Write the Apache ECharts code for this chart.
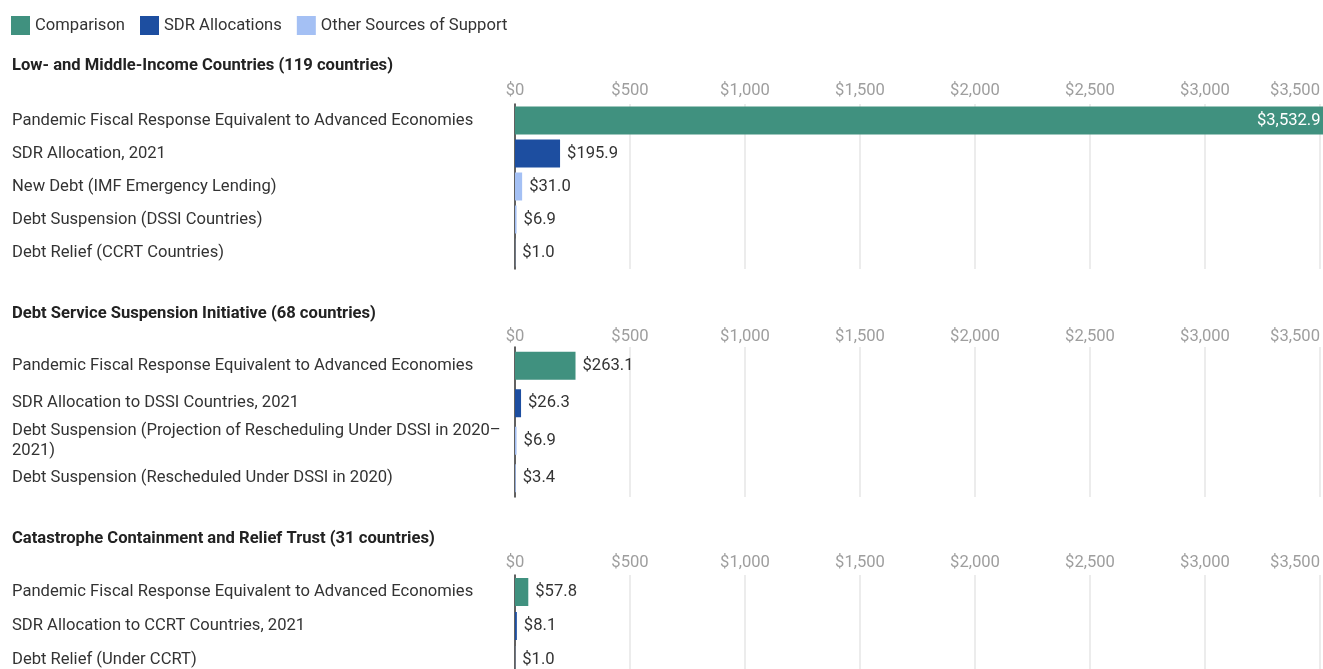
<!DOCTYPE html>
<html>
<head>
<meta charset="utf-8">
<script src="https://cdn.jsdelivr.net/npm/echarts@6/dist/echarts.min.js"></script>
<style>
  html, body { margin: 0; padding: 0; background: #fff; width: 1323px; height: 669px; overflow: hidden; }
  /* the last panel runs past the bottom edge of the page */
  #chart { width: 1323px; height: 690px; }
</style>
</head>
<body>
<div id="chart"></div>
<script>
// Support type names, in legend order
const supportTypes = ['Comparison', 'SDR Allocations', 'Other Sources of Support'];

// Panel headings
const panelTitles = [
  'Low- and Middle-Income Countries (119 countries)',
  'Debt Service Suspension Initiative (68 countries)',
  'Catastrophe Containment and Relief Trust (31 countries)'
];

// Low- and middle-income countries (billions USD)
const lmicCategories = [
  'Pandemic Fiscal Response Equivalent to Advanced Economies',
  'SDR Allocation, 2021',
  'New Debt (IMF Emergency Lending)',
  'Debt Suspension (DSSI Countries)',
  'Debt Relief (CCRT Countries)'
];
const lmicValues = [3532.9, 195.9, 31.0, 6.9, 1.0];
const lmicTypes = [0, 1, 2, 2, 2];

// DSSI countries
const dssiCategories = [
  'Pandemic Fiscal Response Equivalent to Advanced Economies',
  'SDR Allocation to DSSI Countries, 2021',
  'Debt Suspension (Projection of Rescheduling Under DSSI in 2020\u20132021)',
  'Debt Suspension (Rescheduled Under DSSI in 2020)'
];
const dssiValues = [263.1, 26.3, 6.9, 3.4];
const dssiTypes = [0, 1, 2, 2];

// CCRT countries
const ccrtCategories = [
  'Pandemic Fiscal Response Equivalent to Advanced Economies',
  'SDR Allocation to CCRT Countries, 2021',
  'Debt Relief (Under CCRT)'
];
const ccrtValues = [57.8, 8.1, 1.0];
const ccrtTypes = [0, 1, 2];

// Shared value axis ticks
const axisMin = 0;
const axisMax = 3500;
const axisStep = 500;

const typeColors = ['#40917f', '#1d4ea0', '#a4c0f4'];
const FONT = 'Roboto, "Noto Sans", sans-serif';
const FS = 16.6;

const panels = [
  { categories: lmicCategories, values: lmicValues, types: lmicTypes, top: 104, height: 165, titleTop: 57, tickMargin: 5 },
  { categories: dssiCategories, values: dssiValues, types: dssiTypes, top: 347, height: 150, titleTop: 305, tickMargin: 2 },
  { categories: ccrtCategories, values: ccrtValues, types: ccrtTypes, top: 575, height: 102, titleTop: 530, tickMargin: 4 }
];

const fmtMoney = (v, digits) => '$' + v.toLocaleString('en-US', {
  minimumFractionDigits: digits, maximumFractionDigits: digits
});

// long category names wrap after an en dash
const wrapCategory = s => s.length > 60 ? s.replace(/\u2013/g, '\u2013\n') : s;

const grids = [], xAxes = [], yAxes = [], series = [], titles = [];

panels.forEach((p, pi) => {
  titles.push({
    text: panelTitles[pi], left: 12, top: p.titleTop, padding: 0,
    textStyle: { fontFamily: FONT, fontSize: FS, fontWeight: 'bold', color: '#222' }
  });
  grids.push({ left: 515, width: 805, top: p.top, height: p.height, containLabel: false });
  xAxes.push({
    type: 'value', gridIndex: pi, position: 'top',
    min: axisMin, max: axisMax, interval: axisStep,
    axisLine: { show: false }, axisTick: { show: false },
    splitLine: { show: true, lineStyle: { color: '#e6e6e6', width: 1.5 } },
    axisLabel: {
      margin: p.tickMargin, color: '#9e9e9e', fontSize: FS, fontFamily: FONT,
      alignMaxLabel: 'right',
      formatter: v => fmtMoney(v, 0)
    }
  });
  yAxes.push({
    type: 'category', gridIndex: pi, inverse: true, data: p.categories,
    axisLine: { show: true, lineStyle: { color: '#333', width: 1.5 } },
    axisTick: { show: false },
    axisLabel: {
      align: 'left', margin: 503, lineHeight: 20,
      color: '#333', fontSize: FS, fontFamily: FONT,
      formatter: wrapCategory
    }
  });
  supportTypes.forEach((name, ti) => {
    series.push({
      name, type: 'bar', xAxisIndex: pi, yAxisIndex: pi,
      barWidth: 28, barGap: '-100%', clip: false,
      itemStyle: { color: typeColors[ti] },
      label: {
        show: true, position: 'right', distance: 7,
        color: '#333', fontSize: FS, fontFamily: FONT,
        formatter: d => fmtMoney(d.value, 1)
      },
      data: p.values.map((v, i) => {
        if (p.types[i] !== ti) return '-';
        if (v > axisMax) {
          return { value: v, label: { position: 'insideRight', distance: 7, color: '#fff' } };
        }
        return v;
      })
    });
  });
});

const chart = echarts.init(document.getElementById('chart'), null, { renderer: 'canvas' });
chart.setOption({
  animation: false,
  backgroundColor: '#fff',
  title: titles,
  legend: {
    data: supportTypes, left: 11, top: 16, padding: 0,
    icon: 'rect', itemWidth: 19, itemHeight: 19, itemGap: 15,
    textStyle: { fontFamily: FONT, fontSize: FS, color: '#333' }
  },
  grid: grids,
  xAxis: xAxes,
  yAxis: yAxes,
  series
});
</script>
</body>
</html>
